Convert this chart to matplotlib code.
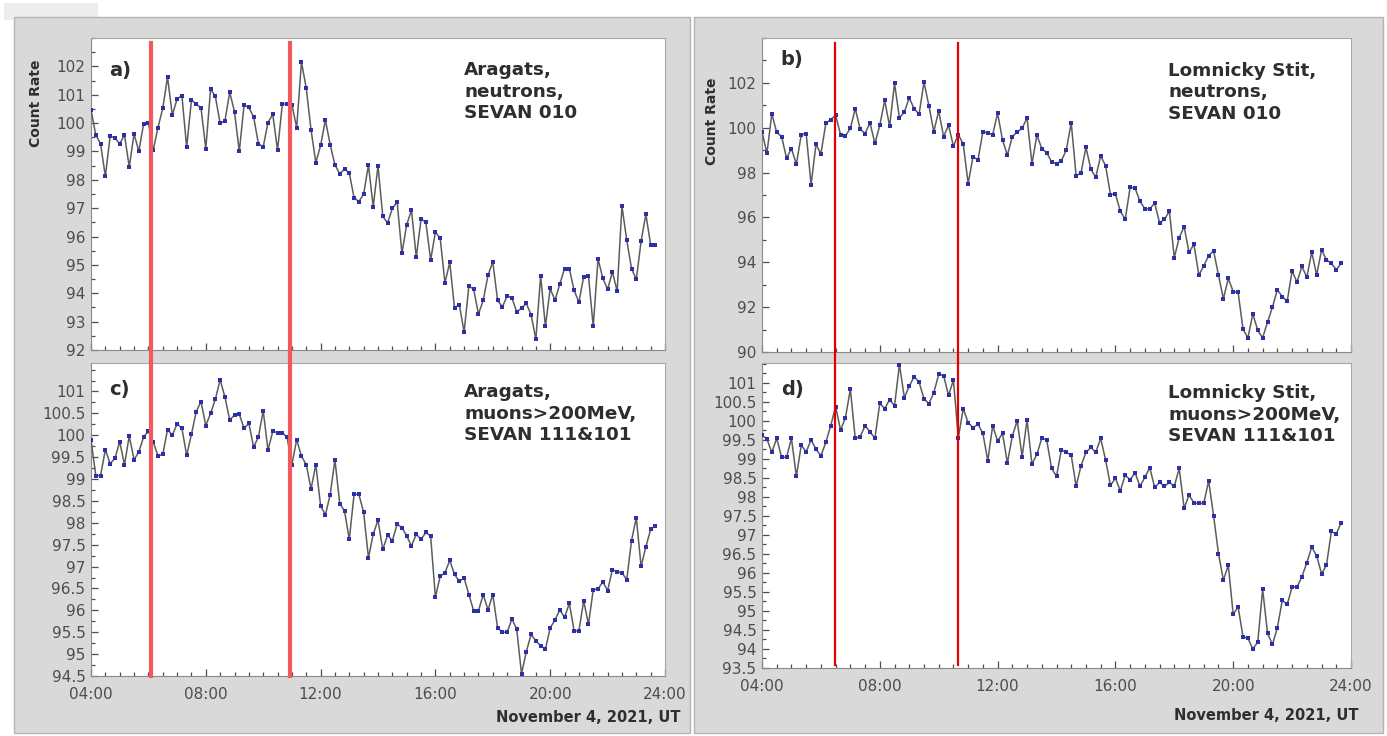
import matplotlib
matplotlib.use("Agg")
import matplotlib.pyplot as plt
from matplotlib.patches import Rectangle
from matplotlib.ticker import MultipleLocator, FixedLocator, FuncFormatter
import numpy as np

# 10-minute samples, 04:00 .. 23:40 UT, November 4 2021
hours = 4 + np.arange(119) / 6.0

aragats_neutrons = [
    100.47, 99.58, 99.27, 98.12, 99.54, 99.48, 99.27, 99.58, 98.45, 99.62,
    99.0, 99.98, 100.02, 99.04, 99.84, 100.52, 101.62, 100.28, 100.85, 100.97,
    99.15, 100.81, 100.67, 100.53, 99.1, 101.2, 100.94, 99.99, 100.08, 101.09,
    100.4, 99.0, 100.63, 100.55, 100.22, 99.27, 99.16, 100.02, 100.31, 99.04,
    100.67, 100.67, 100.65, 99.84, 102.15, 101.23, 99.76, 98.61, 99.21, 100.11,
    99.24, 98.53, 98.21, 98.38, 98.24, 97.37, 97.23, 97.5, 98.52, 97.05,
    98.5, 96.71, 96.48, 96.99, 97.22, 95.41, 96.42, 96.93, 95.27, 96.61,
    96.51, 95.17, 96.16, 95.94, 94.37, 95.09, 93.48, 93.6, 92.63, 94.26,
    94.14, 93.27, 93.75, 94.64, 95.11, 93.75, 93.52, 93.9, 93.84, 93.34,
    93.48, 93.64, 93.25, 92.38, 94.61, 92.83, 94.17, 93.75, 94.32, 94.87,
    94.87, 94.1, 93.69, 94.58, 94.61, 92.83, 95.21, 94.53, 94.14, 94.75,
    94.08, 97.07, 95.88, 94.87, 94.49, 95.83, 96.79, 95.71, 95.71]

lomnicky_neutrons = [
    99.82, 98.86, 100.62, 99.79, 99.6, 98.64, 99.07, 98.37, 99.69, 99.74,
    97.46, 99.26, 98.83, 100.19, 100.36, 100.56, 99.69, 99.63, 99.97, 100.85,
    99.94, 99.74, 100.22, 99.3, 100.11, 101.22, 100.06, 101.98, 100.44, 100.7,
    101.33, 100.85, 100.6, 102.03, 100.99, 99.82, 100.75, 99.6, 100.11, 99.18,
    99.69, 99.27, 97.51, 98.71, 98.56, 99.82, 99.77, 99.69, 100.65, 99.45,
    98.78, 99.6, 99.82, 99.97, 100.44, 98.39, 99.67, 99.07, 98.89, 98.48,
    98.39, 98.53, 99.01, 100.22, 97.85, 98.0, 99.12, 98.15, 97.79, 98.75,
    98.3, 97.02, 97.05, 96.28, 95.91, 97.34, 97.31, 96.72, 96.38, 96.38,
    96.64, 95.76, 95.91, 96.28, 94.21, 95.09, 95.59, 94.44, 94.8, 93.43,
    93.84, 94.29, 94.51, 93.43, 92.37, 93.28, 92.69, 92.66, 91.02, 90.63,
    91.7, 90.96, 90.63, 91.34, 92.0, 92.78, 92.47, 92.26, 93.62, 93.11,
    93.82, 93.33, 94.46, 93.43, 94.55, 94.11, 93.95, 93.67, 93.95]

aragats_muons = [
    99.9, 99.08, 99.08, 99.67, 99.35, 99.47, 99.85, 99.33, 99.98, 99.44,
    99.62, 99.96, 100.09, 99.85, 99.53, 99.56, 100.13, 100.0, 100.26, 100.16,
    99.54, 100.02, 100.54, 100.77, 100.22, 100.5, 100.82, 101.27, 100.87, 100.35,
    100.46, 100.48, 100.16, 100.27, 99.73, 99.96, 100.56, 99.66, 100.09, 100.06,
    100.06, 99.95, 99.33, 99.9, 99.52, 99.33, 98.77, 99.33, 98.39, 98.18,
    98.64, 99.44, 98.44, 98.27, 97.62, 98.65, 98.65, 98.24, 97.2, 97.74,
    98.06, 97.39, 97.72, 97.59, 97.97, 97.89, 97.7, 97.47, 97.74, 97.62,
    97.78, 97.7, 96.3, 96.78, 96.86, 97.14, 96.82, 96.66, 96.74, 96.36,
    95.99, 95.99, 96.36, 96.01, 96.36, 95.6, 95.5, 95.5, 95.8, 95.57,
    94.55, 95.05, 95.45, 95.3, 95.19, 95.11, 95.6, 95.78, 96.01, 95.84,
    96.16, 95.53, 95.53, 96.22, 95.68, 96.47, 96.49, 96.65, 96.45, 96.93,
    96.88, 96.86, 96.7, 97.59, 98.12, 97.01, 97.45, 97.85, 97.93]

lomnicky_muons = [
    99.62, 99.52, 99.17, 99.54, 99.04, 99.04, 99.54, 98.54, 99.36, 99.18,
    99.5, 99.25, 99.08, 99.43, 99.87, 100.37, 99.76, 100.08, 100.83, 99.54,
    99.58, 99.87, 99.71, 99.54, 100.46, 100.32, 100.56, 100.39, 101.48, 100.61,
    100.91, 101.16, 101.02, 100.58, 100.45, 100.74, 101.22, 101.19, 100.67, 101.07,
    99.56, 100.32, 99.95, 99.82, 99.91, 99.67, 98.95, 99.87, 99.47, 99.67,
    98.89, 99.6, 100.0, 99.06, 100.02, 98.86, 99.12, 99.54, 99.5, 98.75,
    98.54, 99.24, 99.17, 99.1, 98.28, 98.82, 99.17, 99.3, 99.17, 99.54,
    98.97, 98.3, 98.49, 98.16, 98.57, 98.45, 98.64, 98.28, 98.51, 98.77,
    98.25, 98.38, 98.28, 98.38, 98.28, 98.75, 97.7, 98.05, 97.84, 97.83,
    97.83, 98.42, 97.51, 96.51, 95.81, 96.2, 94.91, 95.11, 94.32, 94.28,
    94.0, 94.18, 95.57, 94.41, 94.12, 94.56, 95.28, 95.17, 95.63, 95.63,
    95.9, 96.27, 96.68, 96.45, 95.98, 96.2, 97.09, 97.03, 97.32]

# labelled y ticks of each panel
ticks_a = [92, 93, 94, 95, 96, 97, 98, 99, 100, 101, 102]
ticks_b = [90, 92, 94, 96, 98, 100, 102]
ticks_c = [94.5, 95, 95.5, 96, 96.5, 97, 97.5, 98, 98.5, 99, 99.5, 100, 100.5, 101]
ticks_d = [93.5, 94, 94.5, 95, 95.5, 96, 96.5, 97, 97.5, 98, 98.5, 99, 99.5,
           100, 100.5, 101]

# red markers of the interval, hours UT
aragats_events = [6.08, 10.92]
lomnicky_events = [6.47, 10.65]

W, H = 1387, 736


def px_box(x0, y0, x1, y1):
    return [x0 / W, 1 - y1 / H, (x1 - x0) / W, (y1 - y0) / H]


fig = plt.figure(figsize=(W / 100, H / 100), dpi=100)
fig.patch.set_facecolor("white")

# grey frames behind the two columns
fig.add_artist(Rectangle((4 / W, 1 - 20 / H), 94 / W, 17 / H, transform=fig.transFigure,
                         facecolor="#ededed", edgecolor="none", zorder=0))
for x0, x1 in [(14, 690), (694, 1383)]:
    fig.add_artist(Rectangle((x0 / W, 1 - 733 / H), (x1 - x0) / W, 716 / H,
                             transform=fig.transFigure, facecolor="#d9d9d9",
                             edgecolor="#b4b4b4", lw=1.0, zorder=0))

tick_col = "#4d4d4d"
text_col = "#2e2e2e"


def draw_panel(box, vals, ylim, yticks, ymin, tag, station, show_x, events,
               ev_color, ev_lw, ev_span, ylabel_pos=None):
    ax = fig.add_axes(px_box(*box))
    ax.set_facecolor("white")
    ax.plot(hours, vals, color="#5c5c5c", lw=1.1, zorder=3)
    ax.plot(hours, vals, ls="none", marker="s", ms=2.3, mew=0,
            color="#2b2fa8", zorder=4)
    for t in events:
        ax.axvline(t, ymin=ev_span[0], ymax=ev_span[1], color=ev_color,
                   lw=ev_lw, clip_on=False, zorder=5)
    ax.set_xlim(4, 24)
    ax.set_ylim(*ylim)
    ax.xaxis.set_major_locator(MultipleLocator(4))
    ax.xaxis.set_minor_locator(MultipleLocator(0.5))
    ax.yaxis.set_major_locator(FixedLocator(yticks))
    ax.yaxis.set_minor_locator(MultipleLocator(ymin))
    ax.yaxis.set_major_formatter(FuncFormatter(lambda v, p: f"{v:g}"))
    ax.xaxis.set_major_formatter(FuncFormatter(lambda v, p: f"{int(round(v)):02d}:00"))
    ax.tick_params(which="both", direction="in", color=tick_col, width=0.9,
                   labelsize=11, labelcolor=tick_col, top=False, right=False)
    ax.tick_params(which="major", length=5, pad=4)
    ax.tick_params(which="minor", length=3)
    ax.tick_params(axis="x", pad=8)
    if not show_x:
        ax.tick_params(axis="x", labelbottom=False)
    for side, sp in ax.spines.items():
        sp.set_color("#a8a8a8" if side in ("top", "right") else "#8a8a8a")
        sp.set_linewidth(0.8)
    ax.text(tag[1], tag[2], tag[0], transform=ax.transAxes, fontsize=14,
            fontweight="bold", color=text_col, va="top", ha="left")
    ax.text(station[1], station[2], station[0], transform=ax.transAxes,
            fontsize=13.2, fontweight="bold", color=text_col, va="top",
            ha="left", linespacing=1.25)
    if ylabel_pos is not None:
        ax.text(ylabel_pos[0], ylabel_pos[1], "Count Rate", transform=ax.transAxes,
                rotation=90, fontsize=10, fontweight="bold", color=text_col,
                ha="center", va="center")
    return ax


left_red = ("#f25a5a", 3.0)
right_red = ("#e40000", 1.6)

draw_panel((91, 38, 665, 350), aragats_neutrons, (92, 103), ticks_a, 0.5,
           ("a)", 0.031, 0.925), ("Aragats,\nneutrons,\nSEVAN 010", 0.65, 0.925),
           False, aragats_events, *left_red, (-0.045, 0.985), ylabel_pos=(-0.095, 0.79))
draw_panel((91, 363, 665, 676), aragats_muons, (94.5, 101.65), ticks_c, 0.25,
           ("c)", 0.031, 0.945), ("Aragats,\nmuons>200MeV,\nSEVAN 111&101", 0.65, 0.935),
           True, aragats_events, *left_red, (0.0, 1.0))
draw_panel((762, 38, 1351, 352), lomnicky_neutrons, (90, 104), ticks_b, 1,
           ("b)", 0.032, 0.962), ("Lomnicky Stit,\nneutrons,\nSEVAN 010", 0.69, 0.925),
           False, lomnicky_events, *right_red, (-0.04, 0.985), ylabel_pos=(-0.085, 0.735))
draw_panel((762, 363, 1351, 668), lomnicky_muons, (93.5, 101.52), ticks_d, 0.25,
           ("d)", 0.032, 0.945), ("Lomnicky Stit,\nmuons>200MeV,\nSEVAN 111&101", 0.69, 0.93),
           True, lomnicky_events, *right_red, (0.01, 1.0))

fig.text(680 / W, 1 - 717 / H, "November 4, 2021, UT", fontsize=10.5,
         fontweight="bold", color=text_col, ha="right", va="center")
fig.text(1358 / W, 1 - 715 / H, "November 4, 2021, UT", fontsize=10.5,
         fontweight="bold", color=text_col, ha="right", va="center")

fig.savefig("out.png", dpi=100)
